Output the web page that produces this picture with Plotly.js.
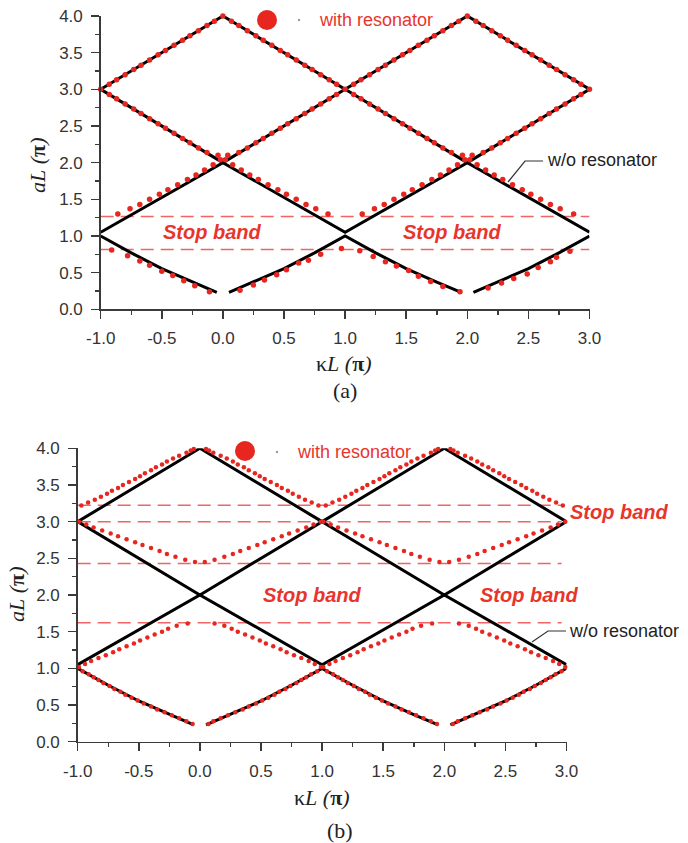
<!DOCTYPE html>
<html>
<head>
<meta charset="utf-8">
<script src="https://cdn.plot.ly/plotly-3.0.1.min.js"></script>
<style>html,body{margin:0;padding:0;background:#fff;}#chart{width:688px;height:843px;}</style>
</head>
<body>
<div id="chart"></div>
<script>
// ---------- tick labels ----------
const xTickVals = [-1, -0.5, 0, 0.5, 1, 1.5, 2, 2.5, 3];
const xTickText = ['-1.0', '-0.5', '0.0', '0.5', '1.0', '1.5', '2.0', '2.5', '3.0'];
const xMinorVals = [-0.75, -0.25, 0.25, 0.75, 1.25, 1.75, 2.25, 2.75];
const yTickVals = [0, 0.5, 1, 1.5, 2, 2.5, 3, 3.5, 4];
const yTickText = ['0.0', '0.5', '1.0', '1.5', '2.0', '2.5', '3.0', '3.5', '4.0'];
const yMinorVals = [0.25, 0.75, 1.25, 1.75, 2.25, 2.75, 3.25, 3.75];

// ---------- w/o resonator (black lines, same in both panels) ----------
const blackK1 = [-1, -0.75, -0.5, -0.25, -0.05, null, 0.05, 0.25, 0.5, 0.75, 1, 1.25, 1.5, 1.75, 1.95, null, 2.05, 2.25, 2.5, 2.75, 3];
const blackY1 = [1.0, 0.77, 0.555, 0.37, 0.23, null, 0.23, 0.37, 0.555, 0.77, 1.0, 0.77, 0.555, 0.37, 0.23, null, 0.23, 0.37, 0.555, 0.77, 1.0];
const blackK2 = [-1, 0, 1, 2, 3];
const blackY2 = [1.05, 2, 1.05, 2, 1.05];
const blackK3 = [-1, 0, 1, 2, 3];
const blackY3 = [3, 2, 3, 2, 3];
const blackK4 = [-1, 0, 1, 2, 3];
const blackY4 = [3, 4, 3, 4, 3];

// ---------- panel (a): with resonator ----------
const redA1K = [-0.91,-0.78,-0.68,-0.60,-0.50,-0.41,-0.32,-0.23,-0.11, 0.14,0.25,0.34,0.44,0.52,0.62,0.70,0.80,0.97, 1.12,1.23,1.33,1.42,1.52,1.60,1.70,1.80,1.94, 2.17,2.28,2.38,2.49,2.58,2.68,2.73,2.84];
const redA1Y = [0.81,0.73,0.66,0.60,0.52,0.46,0.39,0.32,0.24, 0.26,0.33,0.40,0.47,0.54,0.63,0.67,0.75,0.83, 0.80,0.72,0.65,0.59,0.53,0.45,0.38,0.31,0.24, 0.29,0.36,0.42,0.48,0.57,0.65,0.71,0.79];
const redA2K = [-0.86,-0.76,-0.68,-0.60,-0.52,-0.45,-0.37,-0.29,-0.22,-0.15,-0.08,-0.02, 0.02,0.08,0.15,0.22,0.29,0.37,0.45,0.52,0.60,0.68,0.76,0.86, 1.14,1.24,1.32,1.40,1.48,1.55,1.63,1.71,1.78,1.85,1.92,1.98, 2.02,2.08,2.15,2.22,2.29,2.37,2.45,2.52,2.60,2.68,2.76,2.87];
const redA2Y = [1.30,1.37,1.43,1.50,1.57,1.63,1.70,1.77,1.83,1.90,1.97,2.04, 2.04,1.97,1.90,1.83,1.77,1.70,1.63,1.57,1.50,1.43,1.37,1.30, 1.30,1.37,1.43,1.50,1.57,1.63,1.70,1.77,1.83,1.90,1.97,2.04, 2.04,1.97,1.90,1.83,1.77,1.70,1.63,1.57,1.50,1.43,1.37,1.30];
const redA3K = [-0.93,-0.87,-0.80,-0.73,-0.67,-0.60,-0.53,-0.47,-0.40,-0.33,-0.27,-0.20,-0.13,-0.04, 0.04,0.13,0.20,0.27,0.33,0.40,0.47,0.53,0.60,0.67,0.73,0.80,0.87,0.93, 1.07,1.13,1.20,1.27,1.33,1.40,1.47,1.53,1.60,1.67,1.73,1.80,1.87,1.96, 2.04,2.13,2.20,2.27,2.33,2.40,2.47,2.53,2.60,2.67,2.73,2.80,2.87,2.93];
const redA3Y = [2.93,2.87,2.80,2.73,2.67,2.60,2.53,2.47,2.40,2.33,2.27,2.20,2.14,2.10, 2.10,2.14,2.20,2.27,2.33,2.40,2.47,2.53,2.60,2.67,2.73,2.80,2.87,2.93, 2.93,2.87,2.80,2.73,2.67,2.60,2.53,2.47,2.40,2.33,2.27,2.20,2.14,2.10, 2.10,2.14,2.20,2.27,2.33,2.40,2.47,2.53,2.60,2.67,2.73,2.80,2.87,2.93];
const redA4K = [-1.00,-0.93,-0.87,-0.80,-0.73,-0.67,-0.60,-0.53,-0.47,-0.40,-0.33,-0.27,-0.20,-0.13,-0.07,0.00, 0.07,0.13,0.20,0.27,0.33,0.40,0.47,0.53,0.60,0.67,0.73,0.80,0.87,0.93,1.00, 1.07,1.13,1.20,1.27,1.33,1.40,1.47,1.53,1.60,1.67,1.73,1.80,1.87,1.93,2.00, 2.07,2.13,2.20,2.27,2.33,2.40,2.47,2.53,2.60,2.67,2.73,2.80,2.87,2.93,3.00];
const redA4Y = [3.00,3.07,3.13,3.20,3.27,3.33,3.40,3.47,3.53,3.60,3.67,3.73,3.80,3.87,3.93,4.00, 3.93,3.87,3.80,3.73,3.67,3.60,3.53,3.47,3.40,3.33,3.27,3.20,3.13,3.07,3.00, 3.07,3.13,3.20,3.27,3.33,3.40,3.47,3.53,3.60,3.67,3.73,3.80,3.87,3.93,4.00, 3.93,3.87,3.80,3.73,3.67,3.60,3.53,3.47,3.40,3.33,3.27,3.20,3.13,3.07,3.00];
const stopAK = [-1, 3];
const stopAY = [0.815, 1.265];

// ---------- panel (b): with resonator ----------
const redB1K = [-0.96,-0.91,-0.87,-0.83,-0.79,-0.74,-0.70,-0.65,-0.61,-0.56,-0.51,-0.46,-0.40,-0.35,-0.29,-0.23,-0.17,-0.11,-0.06, 0.07,0.11,0.17,0.23,0.29,0.35,0.40,0.46,0.51,0.56,0.61,0.65,0.70,0.74,0.79,0.83,0.87,0.91,0.96, 1.04,1.09,1.13,1.17,1.21,1.26,1.30,1.35,1.39,1.44,1.49,1.54,1.60,1.65,1.71,1.77,1.83,1.89,1.94, 2.07,2.11,2.17,2.23,2.29,2.35,2.40,2.46,2.51,2.56,2.61,2.65,2.70,2.74,2.79,2.83,2.87,2.91,2.96];
const redB1Y = [0.96,0.92,0.88,0.84,0.80,0.76,0.72,0.68,0.64,0.60,0.56,0.52,0.48,0.44,0.40,0.36,0.32,0.28,0.24, 0.24,0.28,0.32,0.36,0.40,0.44,0.48,0.52,0.56,0.60,0.64,0.68,0.72,0.76,0.80,0.84,0.88,0.92,0.96, 0.96,0.92,0.88,0.84,0.80,0.76,0.72,0.68,0.64,0.60,0.56,0.52,0.48,0.44,0.40,0.36,0.32,0.28,0.24, 0.24,0.28,0.32,0.36,0.40,0.44,0.48,0.52,0.56,0.60,0.64,0.68,0.72,0.76,0.80,0.84,0.88,0.92,0.96];
const redB2K = [-0.99,-0.94,-0.89,-0.83,-0.77,-0.71,-0.66,-0.60,-0.54,-0.49,-0.43,-0.37,-0.31,-0.26,-0.19,-0.10, 0.12,0.20,0.26,0.31,0.37,0.43,0.49,0.54,0.60,0.66,0.71,0.77,0.83,0.89,0.94,0.99, 1.01,1.06,1.11,1.17,1.23,1.29,1.34,1.40,1.46,1.51,1.57,1.63,1.69,1.74,1.81,1.90, 2.12,2.20,2.26,2.31,2.37,2.43,2.49,2.54,2.60,2.66,2.71,2.77,2.83,2.89,2.94,2.99];
const redB2Y = [1.02,1.06,1.10,1.14,1.18,1.22,1.26,1.30,1.34,1.38,1.42,1.46,1.50,1.54,1.58,1.61, 1.61,1.58,1.54,1.50,1.46,1.42,1.38,1.34,1.30,1.26,1.22,1.18,1.14,1.10,1.06,1.02, 1.02,1.06,1.10,1.14,1.18,1.22,1.26,1.30,1.34,1.38,1.42,1.46,1.50,1.54,1.58,1.61, 1.61,1.58,1.54,1.50,1.46,1.42,1.38,1.34,1.30,1.26,1.22,1.18,1.14,1.10,1.06,1.02];
const redB3K = [-0.99,-0.93,-0.87,-0.80,-0.73,-0.67,-0.60,-0.53,-0.47,-0.40,-0.33,-0.27,-0.20,-0.12,-0.04, 0.04,0.12,0.20,0.27,0.33,0.40,0.47,0.53,0.60,0.67,0.73,0.80,0.87,0.93,0.99, 1.01,1.07,1.13,1.20,1.27,1.33,1.40,1.47,1.53,1.60,1.67,1.73,1.80,1.88,1.96, 2.04,2.12,2.20,2.27,2.33,2.40,2.47,2.53,2.60,2.67,2.73,2.80,2.87,2.93,2.99];
const redB3Y = [3.00,2.96,2.92,2.88,2.84,2.80,2.76,2.72,2.68,2.64,2.60,2.56,2.52,2.48,2.45, 2.45,2.48,2.52,2.56,2.60,2.64,2.68,2.72,2.76,2.80,2.84,2.88,2.92,2.96,3.00, 3.00,2.96,2.92,2.88,2.84,2.80,2.76,2.72,2.68,2.64,2.60,2.56,2.52,2.48,2.45, 2.45,2.48,2.52,2.56,2.60,2.64,2.68,2.72,2.76,2.80,2.84,2.88,2.92,2.96,3.00];
const redB4K = [-0.97,-0.915,-0.86,-0.81,-0.76,-0.72,-0.67,-0.63,-0.58,-0.53,-0.49,-0.45,-0.40,-0.36,-0.31,-0.27,-0.22,-0.17,-0.11,-0.075,-0.05, 0.05,0.075,0.11,0.17,0.22,0.27,0.31,0.36,0.40,0.45,0.49,0.53,0.58,0.63,0.67,0.72,0.76,0.81,0.86,0.915,0.97, 1.03,1.085,1.14,1.19,1.24,1.28,1.33,1.37,1.42,1.47,1.51,1.55,1.60,1.64,1.69,1.73,1.78,1.83,1.89,1.925,1.95, 2.05,2.075,2.11,2.17,2.22,2.27,2.31,2.36,2.40,2.45,2.49,2.53,2.58,2.63,2.67,2.72,2.76,2.81,2.86,2.915,2.97];
const redB4Y = [3.22,3.26,3.30,3.34,3.38,3.42,3.46,3.50,3.54,3.58,3.62,3.66,3.70,3.74,3.78,3.82,3.86,3.90,3.94,3.97,3.99, 3.99,3.97,3.94,3.90,3.86,3.82,3.78,3.74,3.70,3.66,3.62,3.58,3.54,3.50,3.46,3.42,3.38,3.34,3.30,3.26,3.22, 3.22,3.26,3.30,3.34,3.38,3.42,3.46,3.50,3.54,3.58,3.62,3.66,3.70,3.74,3.78,3.82,3.86,3.90,3.94,3.97,3.99, 3.99,3.97,3.94,3.90,3.86,3.82,3.78,3.74,3.70,3.66,3.62,3.58,3.54,3.50,3.46,3.42,3.38,3.34,3.30,3.26,3.22];
const stopBK = [-1, 2.96];
const stopBY = [1.62, 2.43, 3.0, 3.225];

// ---------- styling ----------
const RED = '#e6261f';
const RED_TXT = '#e8352c';
const DASH_RED = '#f06464';
const AX = '#3a3a3a';
const W = 688, H = 843;
const px = x => x / W;
const py = y => 1 - y / H;

function blackTrace(k, y, xa, ya) {
  return {x: k, y: y, xaxis: xa, yaxis: ya, mode: 'lines', line: {color: '#000', width: 3}, hoverinfo: 'skip'};
}
function redTrace(k, y, xa, ya, size) {
  return {x: k, y: y, xaxis: xa, yaxis: ya, mode: 'markers', marker: {color: RED, size: size, line: {width: 0}}, cliponaxis: false, hoverinfo: 'skip'};
}
function dashTrace(k, level, xa, ya) {
  return {x: k, y: [level, level], xaxis: xa, yaxis: ya, mode: 'lines', line: {color: DASH_RED, width: 1.5, dash: '13px,7px'}, hoverinfo: 'skip'};
}

const traces = [];
stopAY.forEach(v => traces.push(dashTrace(stopAK, v, 'x', 'y')));
stopBY.forEach(v => traces.push(dashTrace(stopBK, v, 'x2', 'y2')));
[['x','y'],['x2','y2']].forEach(([xa, ya]) => {
  traces.push(blackTrace(blackK1, blackY1, xa, ya));
  traces.push(blackTrace(blackK2, blackY2, xa, ya));
  traces.push(blackTrace(blackK3, blackY3, xa, ya));
  traces.push(blackTrace(blackK4, blackY4, xa, ya));
});
traces.push(redTrace(redA1K, redA1Y, 'x', 'y', 5.5));
traces.push(redTrace(redA2K, redA2Y, 'x', 'y', 5.5));
traces.push(redTrace(redA3K, redA3Y, 'x', 'y', 5.5));
traces.push(redTrace(redA4K, redA4Y, 'x', 'y', 5.5));
traces.push(redTrace(redB1K, redB1Y, 'x2', 'y2', 4.5));
traces.push(redTrace(redB2K, redB2Y, 'x2', 'y2', 4.5));
traces.push(redTrace(redB3K, redB3Y, 'x2', 'y2', 4.5));
traces.push(redTrace(redB4K, redB4Y, 'x2', 'y2', 4.5));

const tickFont = {family: 'Liberation Sans, Arial, sans-serif', size: 17, color: '#333'};
function xAxis(domain, anchor) {
  return {domain: domain, anchor: anchor, range: [-1, 3], showgrid: false, zeroline: false,
    showline: true, linecolor: AX, linewidth: 1.5, ticks: 'outside', ticklen: 8, tickwidth: 1.5, tickcolor: AX,
    tickmode: 'array', tickvals: xTickVals, ticktext: xTickText, tickfont: tickFont, ticklabelstandoff: 5,
    minor: {ticks: 'outside', ticklen: 4, tickwidth: 1.5, tickcolor: AX, tickmode: 'array', tickvals: xMinorVals, showgrid: false}};
}
function yAxis(domain, anchor) {
  return {domain: domain, anchor: anchor, range: [0, 4], showgrid: false, zeroline: false,
    showline: true, linecolor: AX, linewidth: 1.5, ticks: 'outside', ticklen: 8, tickwidth: 1.5, tickcolor: AX,
    tickmode: 'array', tickvals: yTickVals, ticktext: yTickText, tickfont: tickFont, ticklabelstandoff: 5,
    minor: {ticks: 'outside', ticklen: 4, tickwidth: 1.5, tickcolor: AX, tickmode: 'array', tickvals: yMinorVals, showgrid: false}};
}

function ann(text, x, y, opts) {
  return Object.assign({text: text, x: px(x), y: py(y), xref: 'paper', yref: 'paper', showarrow: false,
    xanchor: 'center', yanchor: 'middle'}, opts || {});
}
const serif = {family: 'Liberation Serif, Times New Roman, serif', size: 22, color: '#222'};
const stopFont = {family: 'Liberation Sans, Arial, sans-serif', size: 20, color: RED_TXT};
const legFont = {family: 'Liberation Sans, Arial, sans-serif', size: 18, color: RED_TXT};
const woFont = {family: 'Liberation Sans, Arial, sans-serif', size: 18, color: '#222'};
const xTitle = 'κ<i>L</i> <i>(</i><b>π</b><i>)</i>';
const yTitle = '<i>aL</i> <i>(</i><b>π</b><i>)</i>';

const annotations = [
  ann(xTitle, 344, 363, {font: serif}),
  ann('(a)', 345, 390, {font: serif}),
  ann(yTitle, 37, 166, {font: serif, textangle: -90}),
  ann(xTitle, 322, 797, {font: serif}),
  ann('(b)', 340, 830, {font: serif}),
  ann(yTitle, 16, 595, {font: serif, textangle: -90}),
  ann('<b><i>Stop band</i></b>', 212, 232, {font: stopFont}),
  ann('<b><i>Stop band</i></b>', 453, 232, {font: stopFont}),
  ann('<b><i>Stop band</i></b>', 312, 595, {font: stopFont}),
  ann('<b><i>Stop band</i></b>', 529, 595, {font: stopFont}),
  ann('<b><i>Stop band</i></b>', 619, 512, {font: stopFont}),
  ann('with resonator', 317, 20, {font: legFont, xanchor: 'left'}),
  ann('with resonator', 295, 452, {font: legFont, xanchor: 'left'}),
  ann('w/o resonator', 545, 160, {font: woFont, xanchor: 'left'}),
  ann('w/o resonator', 567, 631, {font: woFont, xanchor: 'left'})
];

function circ(cx, cy, r, color) {
  return {type: 'circle', xref: 'paper', yref: 'paper', x0: px(cx - r), x1: px(cx + r), y0: py(cy + r), y1: py(cy - r),
    fillcolor: color, line: {width: 0}};
}
function path(pts, color) {
  const d = pts.map((p, i) => (i ? 'L' : 'M') + px(p[0]) + ',' + py(p[1])).join(' ');
  return {type: 'path', xref: 'paper', yref: 'paper', path: d, line: {color: color, width: 1.2}};
}
const shapes = [
  circ(267, 20, 10, RED), circ(299, 20, 1.2, '#999'),
  circ(245, 451, 10, RED), circ(277, 452, 1.2, '#999'),
  path([[543, 161], [525, 161], [508, 182]], '#333'),
  path([[566, 631], [548, 631], [532, 642]], '#333')
];

const layout = {
  width: W, height: H, margin: {l: 0, r: 0, t: 0, b: 0},
  paper_bgcolor: '#fff', plot_bgcolor: 'rgba(0,0,0,0)', showlegend: false,
  xaxis: xAxis([100.7 / W, 589.5 / W], 'y'),
  yaxis: yAxis([py(309.3), py(16)], 'x'),
  xaxis2: xAxis([77.7 / W, 566.5 / W], 'y2'),
  yaxis2: yAxis([py(741.7), py(448.3)], 'x2'),
  annotations: annotations,
  shapes: shapes
};

Plotly.newPlot('chart', traces, layout, {staticPlot: true, displayModeBar: false});
</script>
</body>
</html>
